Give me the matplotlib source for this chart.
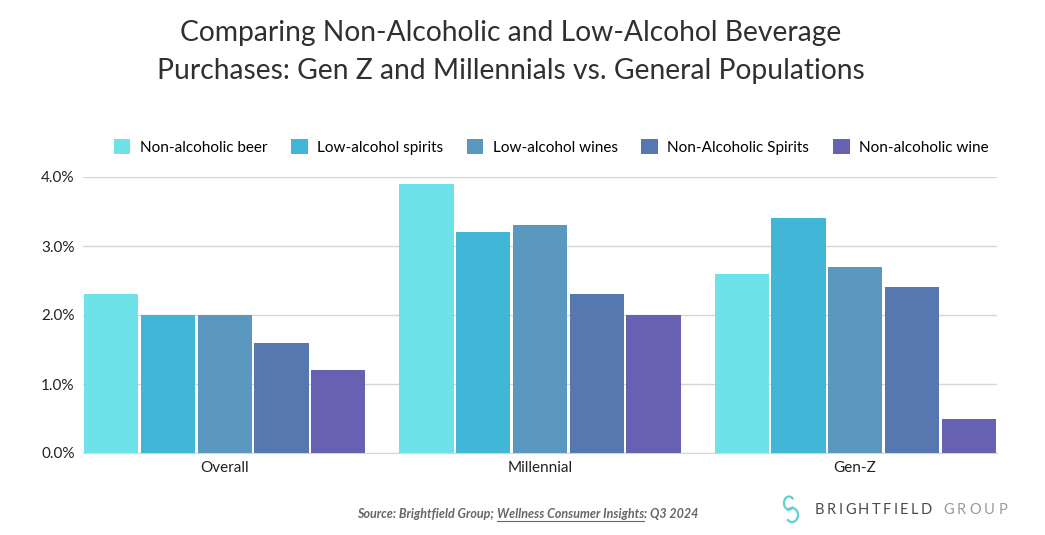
import matplotlib

matplotlib.use("Agg")
import matplotlib.pyplot as plt
import numpy as np
from matplotlib.patches import Arc

plt.rcParams["font.family"] = ["Lato", "DejaVu Sans"]

groups = ["Overall", "Millennial", "Gen-Z"]
series = [
    "Non-alcoholic beer",
    "Low-alcohol spirits",
    "Low-alcohol wines",
    "Non-Alcoholic Spirits",
    "Non-alcoholic wine",
]
beer_na = [2.3, 3.9, 2.6]
spirits_low = [2.0, 3.2, 3.4]
wines_low = [2.0, 3.3, 2.7]
spirits_na = [1.6, 2.3, 2.4]
wine_na = [1.2, 2.0, 0.5]
values = [beer_na, spirits_low, wines_low, spirits_na, wine_na]
colors = ["#6de3e9", "#42b6d6", "#5a98bf", "#5677b0", "#6661b0"]

fig = plt.figure(figsize=(10.45, 5.35), dpi=100)
ax = fig.add_axes([83 / 1045, 1 - 453 / 535, (997 - 83) / 1045, (453 - 177) / 535])

x = np.arange(len(groups))
slot = 0.18
width = 0.172
for i, (name, vals) in enumerate(zip(series, values)):
    ax.bar(x + (i - 2) * slot, vals, width, color=colors[i], label=name, zorder=3)

ax.set_xlim(-0.45, 2.45)
ax.set_ylim(0, 4.0)
ax.set_yticks([0, 1, 2, 3, 4])
ax.set_yticklabels([f"{v:.1f}%" for v in [0, 1, 2, 3, 4]])
ax.set_xticks(x)
ax.set_xticklabels(groups)
ax.tick_params(length=0, labelsize=11, colors="#222222", pad=6)
ax.grid(axis="y", color="#d6d6d6", linewidth=1, zorder=0)
for s in ["top", "right", "left"]:
    ax.spines[s].set_visible(False)
ax.spines["bottom"].set_color("#d6d6d6")

ax.legend(
    loc="lower center",
    bbox_to_anchor=(0.512, 1.03),
    ncol=5,
    frameon=False,
    fontsize=11,
    handlelength=1.1,
    handleheight=1.1,
    handletextpad=0.6,
    columnspacing=1.55,
)

fig.text(
    511 / 1045, 1 - 52 / 535,
    "Comparing Non-Alcoholic and Low-Alcohol Beverage\nPurchases: Gen Z and Millennials vs. General Populations",
    ha="center", va="center", fontsize=20.3, fontweight="normal", color="#303030",
    linespacing=1.6,
)

# source line with underlined report title
fig.canvas.draw()
r = fig.canvas.get_renderer()
parts = ["Source: Brightfield Group; ", "Wellness Consumer Insights", ": Q3 2024"]
ys = 1 - 518 / 535
texts = []
for p in parts:
    t = fig.text(0, ys, p, fontsize=9, style="italic", fontweight="bold", color="#666666", va="baseline")
    texts.append(t)
widths = [t.get_window_extent(r).width for t in texts]
start = 528 - sum(widths) / 2
for t, w in zip(texts, widths):
    t.set_x(start / 1045)
    if t.get_text().startswith("Wellness"):
        fig.add_artist(plt.Line2D([start / 1045, (start + w) / 1045], [ys - 2.5 / 535] * 2,
                                  color="#666666", linewidth=0.8))
    start += w

# logo wordmark, letters placed one by one for wide tracking
def spaced(word, x0, color, track):
    px = x0
    for ch in word:
        t = fig.text(px / 1045, 1 - 510 / 535, ch, fontsize=10.5, color=color,
                     va="center", ha="left", fontweight="normal")
        px += t.get_window_extent(r).width + track
    return px

spaced("BRIGHTFIELD", 815, "#4a4a4a", 2.4)
spaced("GROUP", 943, "#999999", 3.2)
fig.add_artist(Arc((789 / 1045, 1 - 503 / 535), 10 / 1045, 13 / 535, theta1=60, theta2=300,
                   color="#5fd0cf", linewidth=1.6))
fig.add_artist(Arc((792 / 1045, 1 - 515 / 535), 12 / 1045, 14 / 535, theta1=-120, theta2=120,
                   color="#5fd0cf", linewidth=1.6))

fig.savefig("out.png", dpi=100, facecolor="white")
